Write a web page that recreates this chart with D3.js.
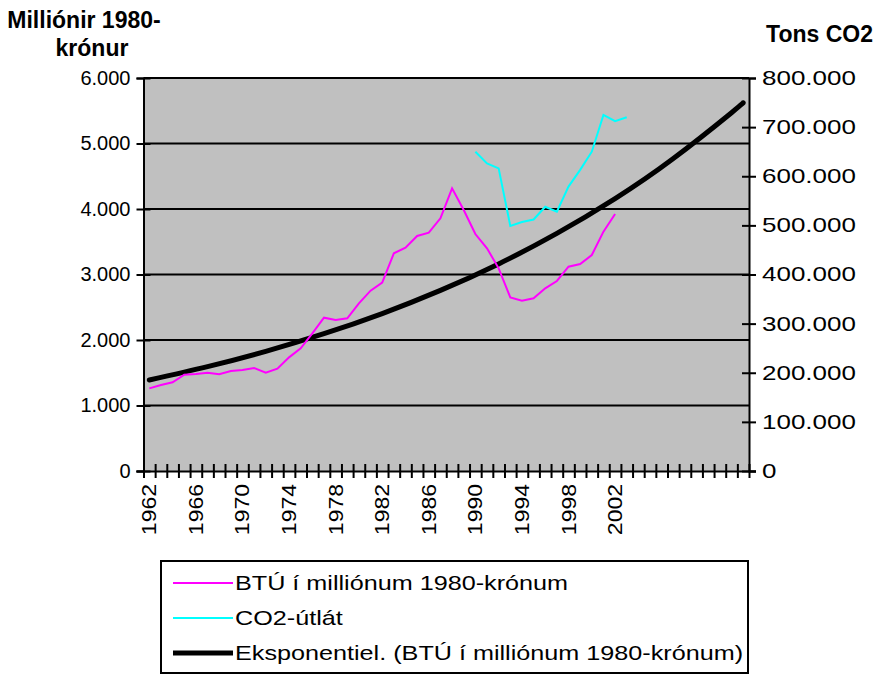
<!DOCTYPE html>
<html>
<head>
<meta charset="utf-8">
<script src="https://cdn.jsdelivr.net/npm/d3@7"></script>
<style>
  body { margin: 0; background: #fff; }
  text { font-family: "Liberation Sans", Arial, sans-serif; }
</style>
</head>
<body>
<div id="chart"></div>
<script>
// categories (years that carry data), plus empty slots of the trend forecast
const categories = [1962, 1963, 1964, 1965, 1966, 1967, 1968, 1969, 1970, 1971,
    1972, 1973, 1974, 1975, 1976, 1977, 1978, 1979, 1980, 1981,
    1982, 1983, 1984, 1985, 1986, 1987, 1988, 1989, 1990, 1991,
    1992, 1993, 1994, 1995, 1996, 1997, 1998, 1999, 2000, 2001,
    2002, 2003];
const forecastSlots = 10;

// BTÚ í milliónum 1980-krónum, 1962-2002 (left axis)
const btu = [1262, 1313, 1354, 1470, 1481, 1501, 1476, 1527, 1542, 1573,
    1501, 1562, 1735, 1873, 2102, 2341, 2305, 2331, 2560, 2753,
    2875, 3323, 3409, 3588, 3638, 3858, 4316, 3985, 3618, 3400,
    3094, 2651, 2600, 2636, 2789, 2901, 3119, 3160, 3298, 3654,
    3924];

// CO2-útlát, 1990-2003 (right axis)
const co2Start = 1990;
const co2 = [650000, 626000, 616000, 499000, 507000, 512000, 538000, 528000,
    579000, 613000, 650000, 725000, 712000, 720000];

// exponential trend line (slot index -> value)
const trendSlot = [0, 5, 10, 15, 20, 25, 30, 35, 40, 45, 50, 51];
const trendValues = [1390, 1593, 1827, 2096, 2404, 2757, 3162, 3627, 4159, 4771, 5470, 5623];

const leftTicks = [0, 1000, 2000, 3000, 4000, 5000, 6000];
const rightTicks = [0, 100000, 200000, 300000, 400000, 500000, 600000, 700000, 800000];

const width = 878, height = 679;
const plot = { left: 143.5, right: 749, top: 78, bottom: 471 };
const nSlots = categories.length + forecastSlots;

const svg = d3.select("#chart").append("svg")
    .attr("width", width)
    .attr("height", height);

const x = d3.scaleLinear().domain([0, nSlots]).range([plot.left, plot.right]);
const cx = i => x(i + 0.5);
const yL = d3.scaleLinear().domain([0, 6000]).range([plot.bottom, plot.top]);
const yR = d3.scaleLinear().domain([0, 800000]).range([plot.bottom, plot.top]);

const fmt = d => d3.format(",")(d).replace(/,/g, ".");

// plot area
svg.append("rect")
    .attr("x", plot.left).attr("y", plot.top)
    .attr("width", plot.right - plot.left).attr("height", plot.bottom - plot.top)
    .attr("fill", "#c0c0c0");

// gridlines
svg.append("g").selectAll("line")
    .data(leftTicks.filter(d => d > 0))
    .enter().append("line")
    .attr("x1", plot.left).attr("x2", plot.right)
    .attr("y1", d => yL(d)).attr("y2", d => yL(d))
    .attr("stroke", "#000").attr("stroke-width", 2);

// left axis
const gL = svg.append("g")
    .attr("transform", `translate(${plot.left},0)`)
    .call(d3.axisLeft(yL).tickValues(leftTicks).tickFormat(fmt).tickSize(7).tickPadding(6));
gL.selectAll(".tick line").attr("x1", 7).attr("stroke-width", 2);

// right axis
const gR = svg.append("g")
    .attr("transform", `translate(${plot.right},0)`)
    .call(d3.axisRight(yR).tickValues(rightTicks).tickFormat(fmt).tickSize(7).tickPadding(6));
gR.selectAll(".tick line").attr("x1", -7).attr("stroke-width", 2);

// bottom axis (ticks between categories)
const gX = svg.append("g")
    .attr("transform", `translate(0,${plot.bottom})`)
    .call(d3.axisBottom(x).tickValues(d3.range(0, nSlots + 1)).tickFormat("").tickSize(7));
gX.selectAll(".tick line").attr("y1", -7).attr("stroke-width", 2);

[gL, gR, gX].forEach(g => {
    g.select(".domain").attr("stroke-width", 2).attr("stroke", "#000");
    g.selectAll(".tick text").attr("font-size", 20).attr("fill", "#000")
        .style("font-family", "'Liberation Sans', Arial, sans-serif");
});
gX.select(".domain").attr("d", `M${plot.left - 7},0.5H${plot.right + 7}`);
// right-hand labels are drawn wider in the original
gR.selectAll(".tick text").attr("x", 0).attr("transform", "translate(13,0) scale(1.3,1)");

// category labels, every 4th year
svg.append("g").selectAll("text")
    .data(categories.filter((d, i) => i % 4 === 0))
    .enter().append("text")
    .attr("transform", d => `translate(${cx(categories.indexOf(d)) + 7},${plot.bottom + 13}) rotate(-90) scale(1.15,1)`)
    .attr("text-anchor", "end")
    .attr("font-size", 20)
    .text(d => d);

// series
const lineL = d3.line().x(d => cx(d.i)).y(d => yL(d.v));
const lineR = d3.line().x(d => cx(d.i)).y(d => yR(d.v));

svg.append("path")
    .datum(trendSlot.map((s, k) => ({ i: s, v: trendValues[k] })))
    .attr("d", lineL.curve(d3.curveNatural))
    .attr("fill", "none").attr("stroke", "#000").attr("stroke-width", 5)
    .attr("stroke-linecap", "round");

svg.append("path")
    .datum(btu.map((v, i) => ({ i, v })))
    .attr("d", d3.line().x(d => cx(d.i)).y(d => yL(d.v)))
    .attr("fill", "none").attr("stroke", "#ff00ff").attr("stroke-width", 2);

const co2Offset = categories.indexOf(co2Start);
svg.append("path")
    .datum(co2.map((v, i) => ({ i: i + co2Offset, v })))
    .attr("d", lineR)
    .attr("fill", "none").attr("stroke", "#00ffff").attr("stroke-width", 2);

// axis titles
const tL = svg.append("text")
    .attr("text-anchor", "middle")
    .attr("font-size", 23).attr("font-weight", "bold");
tL.append("tspan").attr("x", 84).attr("y", 28).text("Milliónir 1980-");
tL.append("tspan").attr("x", 92).attr("y", 56).text("krónur");

svg.append("text")
    .attr("x", 873).attr("y", 42)
    .attr("text-anchor", "end")
    .attr("font-size", 23).attr("font-weight", "bold")
    .text("Tons CO2");

// legend
const legendItems = [
    { name: "BTÚ í milliónum 1980-krónum", color: "#ff00ff", w: 2 },
    { name: "CO2-útlát", color: "#00ffff", w: 2 },
    { name: "Eksponentiel. (BTÚ í milliónum 1980-krónum)", color: "#000", w: 5 }
];
const legend = svg.append("g");
legend.append("rect")
    .attr("x", 161).attr("y", 561).attr("width", 587).attr("height", 112)
    .attr("fill", "#fff").attr("stroke", "#000").attr("stroke-width", 2);
const rows = legend.selectAll("g.row").data(legendItems).enter().append("g")
    .attr("transform", (d, i) => `translate(0,${583 + i * 35})`);
rows.append("line")
    .attr("x1", 173).attr("x2", 233)
    .attr("stroke", d => d.color).attr("stroke-width", d => d.w);
rows.append("text")
    .attr("transform", "translate(235,0) scale(1.26,1)")
    .attr("dy", "0.35em")
    .attr("font-size", 20)
    .text(d => d.name);
</script>
</body>
</html>
